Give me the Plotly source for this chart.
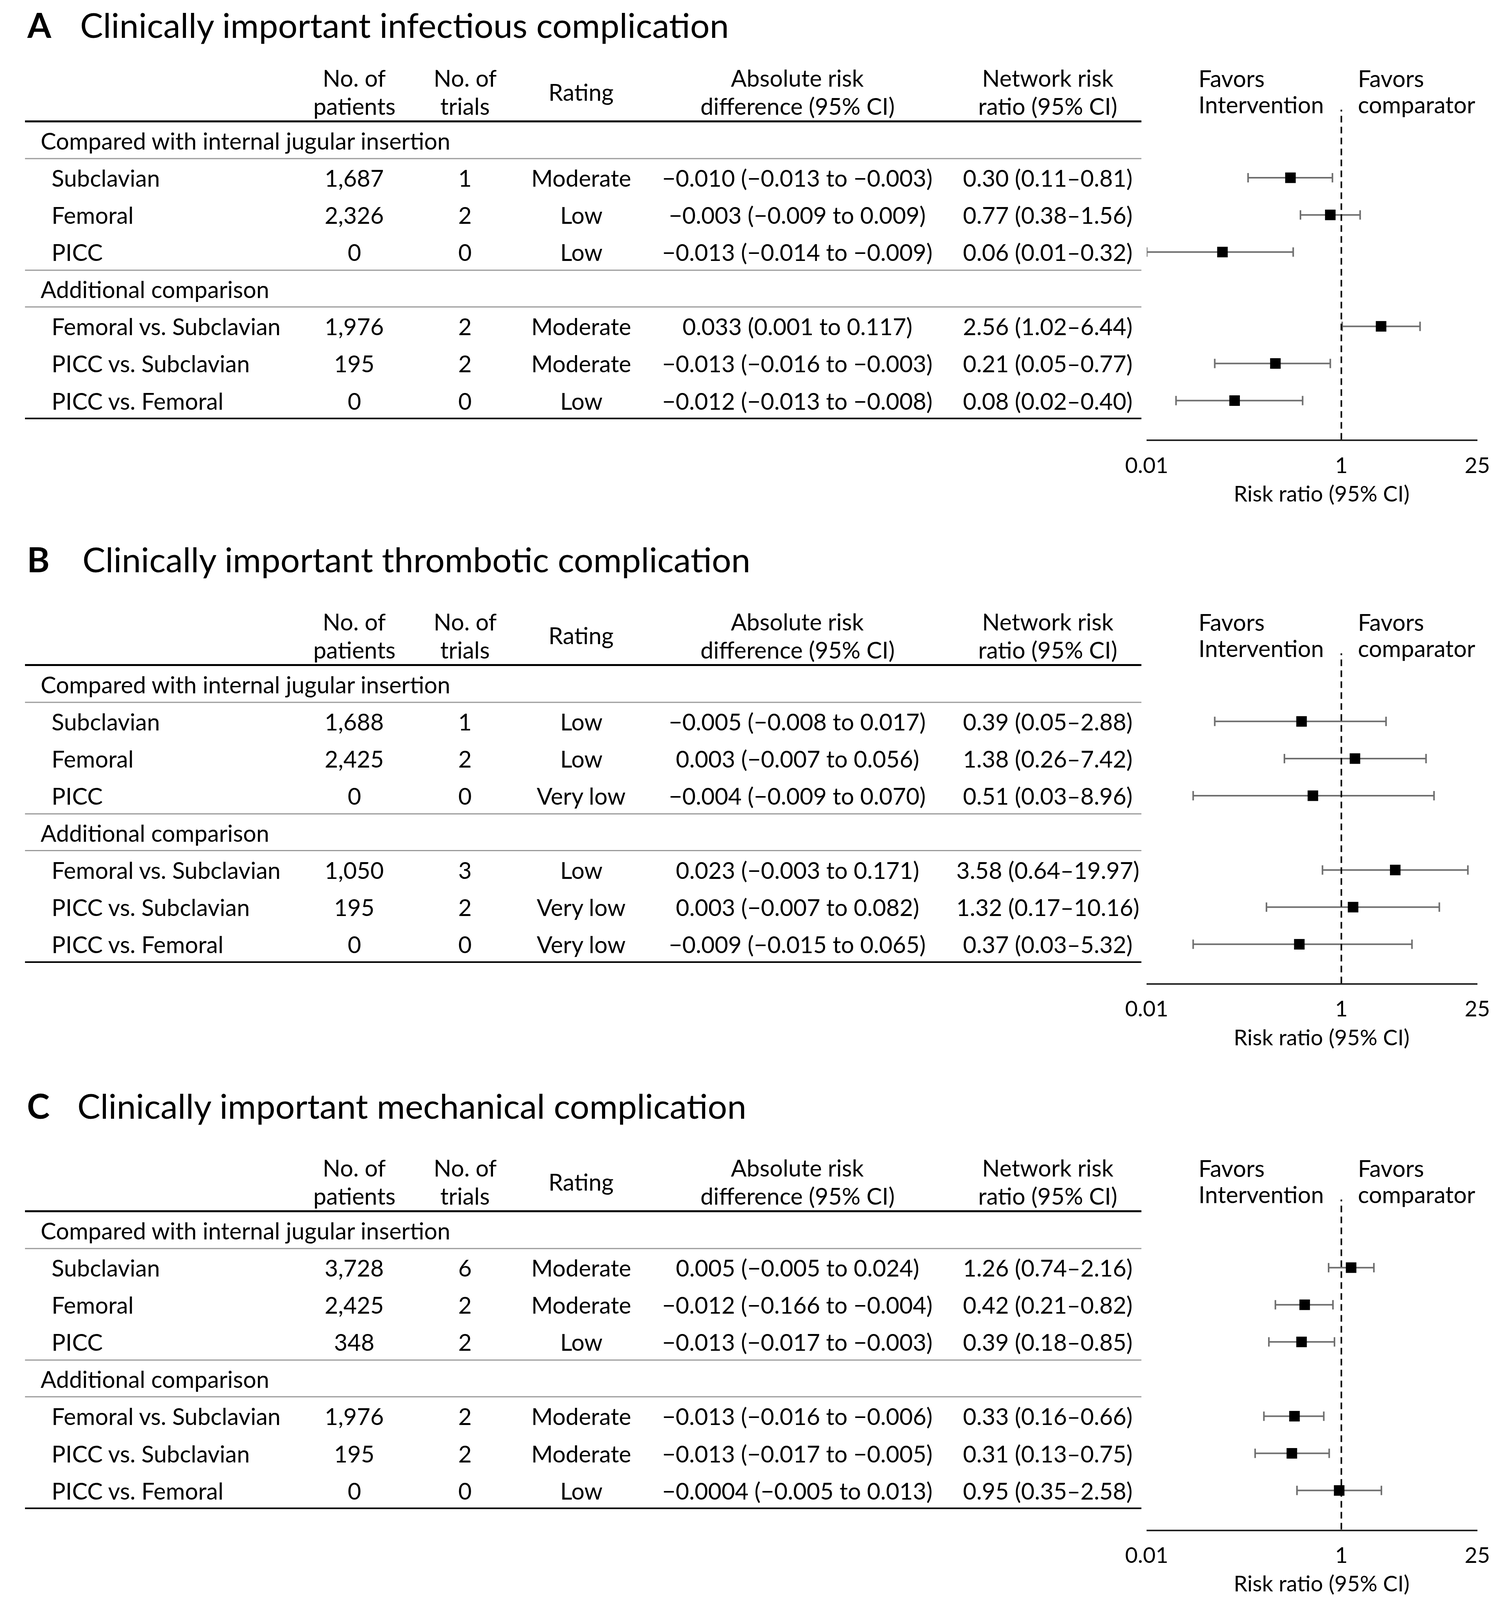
import numpy as np
import plotly.graph_objects as go

# ---------------- data ----------------
panel_letters = ["A", "B", "C"]
panel_titles = [
    "Clinically important infectious complication",
    "Clinically important thrombotic complication",
    "Clinically important mechanical complication",
]
group_labels = ["Compared with internal jugular insertion", "Additional comparison"]
row_labels = ["Subclavian", "Femoral", "PICC",
              "Femoral vs. Subclavian", "PICC vs. Subclavian", "PICC vs. Femoral"]

header_patients = ["No. of", "patients"]
header_trials = ["No. of", "trials"]
header_rating = "Rating"
header_ard = ["Absolute risk", "difference (95% CI)"]
header_rr = ["Network risk", "ratio (95% CI)"]
header_favors_int = ["Favors", "Intervention"]
header_favors_comp = ["Favors", "comparator"]
axis_title = "Risk ratio (95% CI)"
tick_values = [0.01, 1, 25]
tick_text = ["0.01", "1", "25"]

# Panel A – infectious
patients_A = ["1,687", "2,326", "0", "1,976", "195", "0"]
trials_A = ["1", "2", "0", "2", "2", "0"]
rating_A = ["Moderate", "Low", "Low", "Moderate", "Moderate", "Low"]
ard_A = ["\u22120.010 (\u22120.013 to \u22120.003)", "\u22120.003 (\u22120.009 to 0.009)",
         "\u22120.013 (\u22120.014 to \u22120.009)", "0.033 (0.001 to 0.117)",
         "\u22120.013 (\u22120.016 to \u22120.003)", "\u22120.012 (\u22120.013 to \u22120.008)"]
rr_A = [0.30, 0.77, 0.06, 2.56, 0.21, 0.08]
lo_A = [0.11, 0.38, 0.01, 1.02, 0.05, 0.02]
hi_A = [0.81, 1.56, 0.32, 6.44, 0.77, 0.40]

# Panel B – thrombotic
patients_B = ["1,688", "2,425", "0", "1,050", "195", "0"]
trials_B = ["1", "2", "0", "3", "2", "0"]
rating_B = ["Low", "Low", "Very low", "Low", "Very low", "Very low"]
ard_B = ["\u22120.005 (\u22120.008 to 0.017)", "0.003 (\u22120.007 to 0.056)",
         "\u22120.004 (\u22120.009 to 0.070)", "0.023 (\u22120.003 to 0.171)",
         "0.003 (\u22120.007 to 0.082)", "\u22120.009 (\u22120.015 to 0.065)"]
rr_B = [0.39, 1.38, 0.51, 3.58, 1.32, 0.37]
lo_B = [0.05, 0.26, 0.03, 0.64, 0.17, 0.03]
hi_B = [2.88, 7.42, 8.96, 19.97, 10.16, 5.32]

# Panel C – mechanical
patients_C = ["3,728", "2,425", "348", "1,976", "195", "0"]
trials_C = ["6", "2", "2", "2", "2", "0"]
rating_C = ["Moderate", "Moderate", "Low", "Moderate", "Moderate", "Low"]
ard_C = ["0.005 (\u22120.005 to 0.024)", "\u22120.012 (\u22120.166 to \u22120.004)",
         "\u22120.013 (\u22120.017 to \u22120.003)", "\u22120.013 (\u22120.016 to \u22120.006)",
         "\u22120.013 (\u22120.017 to \u22120.005)", "\u22120.0004 (\u22120.005 to 0.013)"]
rr_C = [1.26, 0.42, 0.39, 0.33, 0.31, 0.95]
lo_C = [0.74, 0.21, 0.18, 0.16, 0.13, 0.35]
hi_C = [2.16, 0.82, 0.85, 0.66, 0.75, 2.58]

panels = [
    (patients_A, trials_A, rating_A, ard_A, rr_A, lo_A, hi_A),
    (patients_B, trials_B, rating_B, ard_B, rr_B, lo_B, hi_B),
    (patients_C, trials_C, rating_C, ard_C, rr_C, lo_C, hi_C),
]

# ---------------- layout geometry (reference pixels) ----------------
W, H = 3850, 5060
PAGE_PAD = 8          # default body margin of the html page
FONT = "Lato, 'Open Sans', sans-serif"
FS = 59.5             # body font size
FS_AXIS = 56          # tick labels / axis title
FS_TITLE = 88         # panel title font size


def fx(px):
    return (px - PAGE_PAD) / (W - PAGE_PAD)


def fy(py):
    return 1 - (py - PAGE_PAD) / (H - PAGE_PAD)


panel_offsets = [0, 1720, 3448]
title_x = [151, 157, 144]
SLOT0, SLOT_STEP = 443, 117.5
PLOT_TOP, AXIS_Y = 345, 1389
AXIS_TITLE_Y = 1558
group_slots = [0, 4]
data_slots = [1, 2, 3, 5, 6, 7]

COL_GROUP_X = 48
COL_LABEL_X = 77
COL_PAT = 872
COL_TRI = 1162
COL_RAT = 1466
COL_ARD = 2032
COL_RR = 2688
COL_FAV1 = 3081
COL_FAV2 = 3498
COL_AXIS_TITLE = 3405
TABLE_X0, TABLE_X1 = 9, 2933
AX_X0, AX_X1 = 2947, 3813

fig = go.Figure()
shapes = []
annotations = []
layout_axes = {}


def txt(text, x, y, xanchor="center", yanchor="middle", size=FS, yref="paper", bold=False):
    annotations.append(dict(
        text=("<b>%s</b>" % text) if bold else text,
        x=x, y=y, xref="paper", yref=yref, xanchor=xanchor, yanchor=yanchor,
        showarrow=False, font=dict(family=FONT, size=size, color="black"),
    ))


def hline(py, color, width):
    shapes.append(dict(type="line", xref="paper", yref="paper",
                       x0=fx(TABLE_X0), x1=fx(TABLE_X1), y0=fy(py), y1=fy(py),
                       line=dict(color=color, width=width)))


for p, (pat, tri, rat, ard, rr, lo, hi) in enumerate(panels):
    off = panel_offsets[p]
    sfx = "" if p == 0 else str(p + 1)
    xa, ya = "x" + sfx, "y" + sfx

    layout_axes["xaxis" + sfx] = dict(
        type="log", range=[np.log10(tick_values[0]), np.log10(tick_values[-1])],
        domain=[fx(AX_X0), fx(AX_X1)], anchor=ya,
        tickvals=tick_values, ticktext=tick_text, ticks="",
        showline=True, linecolor="#222222", linewidth=4,
        showgrid=False, zeroline=False, ticklabelstandoff=14,
        tickfont=dict(family=FONT, size=FS_AXIS, color="black"),
        fixedrange=True,
    )
    layout_axes["yaxis" + sfx] = dict(
        domain=[fy(off + AXIS_Y), fy(off + PLOT_TOP)],
        range=[(AXIS_Y - SLOT0) / SLOT_STEP, (PLOT_TOP - SLOT0) / SLOT_STEP],
        visible=False, anchor=xa, fixedrange=True,
    )

    # forest plot: point estimates with 95% CI
    fig.add_trace(go.Scatter(
        x=rr, y=data_slots, xaxis=xa, yaxis=ya, mode="markers",
        marker=dict(symbol="square", size=27, color="black"),
        error_x=dict(type="data", symmetric=False,
                     array=[h - r for h, r in zip(hi, rr)],
                     arrayminus=[r - l for r, l in zip(rr, lo)],
                     color="#6e6e6e", thickness=4, width=12),
        cliponaxis=False, showlegend=False, hoverinfo="skip",
    ))
    # line of no effect
    shapes.append(dict(type="line", xref=xa, yref=ya + " domain", x0=1, x1=1, y0=0, y1=1,
                       line=dict(color="black", width=4, dash="17px,11px")))

    # titles (the first one hangs from the top edge so it is never clipped)
    if p == 0:
        txt(panel_letters[p], fx(12), 1, xanchor="left", yanchor="top", size=FS_TITLE, bold=True)
        txt(panel_titles[p], fx(title_x[p]), 1, xanchor="left", yanchor="top", size=FS_TITLE)
    else:
        txt(panel_letters[p], fx(12), fy(off + 47), xanchor="left", size=FS_TITLE, bold=True)
        txt(panel_titles[p], fx(title_x[p]), fy(off + 47), xanchor="left", size=FS_TITLE)

    # headers
    txt(header_patients[0], fx(COL_PAT), fy(off + 244))
    txt(header_patients[1], fx(COL_PAT), fy(off + 333))
    txt(header_trials[0], fx(COL_TRI), fy(off + 244))
    txt(header_trials[1], fx(COL_TRI), fy(off + 333))
    txt(header_rating, fx(COL_RAT), fy(off + 288))
    txt(header_ard[0], fx(COL_ARD), fy(off + 244))
    txt(header_ard[1], fx(COL_ARD), fy(off + 333))
    txt(header_rr[0], fx(COL_RR), fy(off + 244))
    txt(header_rr[1], fx(COL_RR), fy(off + 333))
    txt(header_favors_int[0], fx(COL_FAV1), fy(off + 245), xanchor="left")
    txt(header_favors_int[1], fx(COL_FAV1), fy(off + 328), xanchor="left")
    txt(header_favors_comp[0], fx(COL_FAV2), fy(off + 245), xanchor="left")
    txt(header_favors_comp[1], fx(COL_FAV2), fy(off + 328), xanchor="left")

    # table rules
    hline(off + 382, "black", 5)
    hline(off + 500, "#9a9a9a", 3)
    hline(off + 853, "#9a9a9a", 3)
    hline(off + 969, "#9a9a9a", 3)
    hline(off + 1322, "black", 4)

    # group labels
    for g, s in zip(group_labels, group_slots):
        txt(g, fx(COL_GROUP_X), s, xanchor="left", yref=ya)

    # data rows
    for i, s in enumerate(data_slots):
        txt(row_labels[i], fx(COL_LABEL_X), s, xanchor="left", yref=ya)
        txt(pat[i], fx(COL_PAT), s, yref=ya)
        txt(tri[i], fx(COL_TRI), s, yref=ya)
        txt(rat[i], fx(COL_RAT), s, yref=ya)
        txt(ard[i], fx(COL_ARD), s, yref=ya)
        txt("%.2f (%.2f\u2013%.2f)" % (rr[i], lo[i], hi[i]), fx(COL_RR), s, yref=ya)

    # axis title
    txt(axis_title, fx(COL_AXIS_TITLE), fy(off + AXIS_TITLE_Y), size=FS_AXIS)

fig.update_layout(
    autosize=True,
    margin=dict(l=0, r=0, t=0, b=0, pad=0),
    paper_bgcolor="white", plot_bgcolor="white",
    shapes=shapes, annotations=annotations,
    showlegend=False,
    **layout_axes,
)

# the figure fills the browser window (3850 x 5060), minus the page's body margin
fig.write_html("out.html", default_width="%dpx" % (W - PAGE_PAD),
               default_height="calc(100vh - %dpx)" % PAGE_PAD,
               config={"responsive": True, "displayModeBar": False})
